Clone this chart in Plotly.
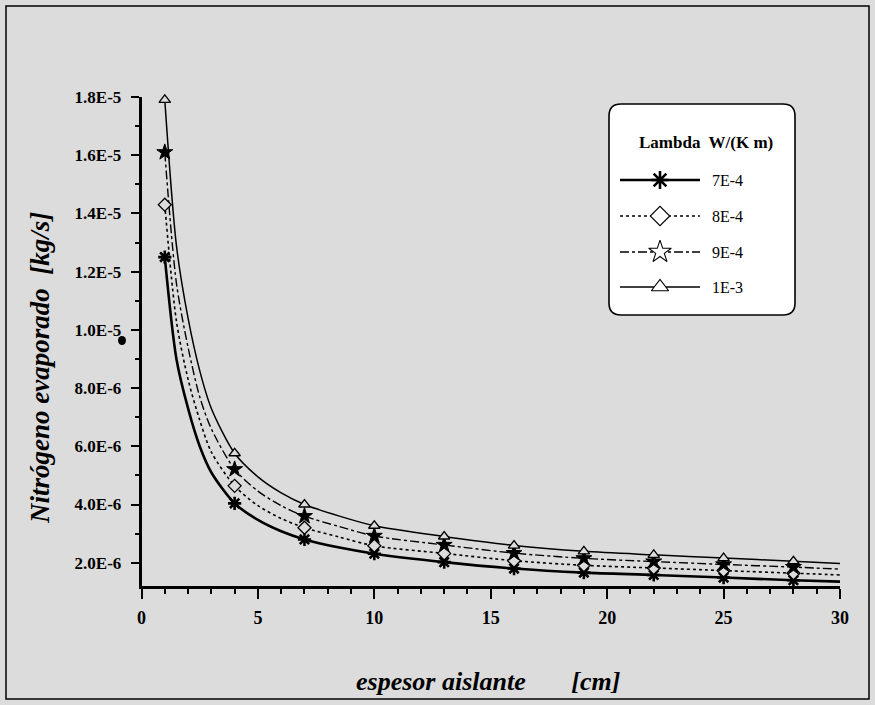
import plotly.graph_objects as go

# ---------------- data ----------------
lambda_labels = ["7E-4", "8E-4", "9E-4", "1E-3"]

curve_x = [1, 1.5, 2, 2.5, 3, 4, 5, 6, 7, 8.5, 10, 13, 16, 19, 22, 25, 28, 30]
curve_7e4 = [12.5, 9.0, 7.3, 6.0, 5.1, 4.04, 3.47, 3.08, 2.80, 2.52, 2.31, 2.02, 1.80, 1.66, 1.58, 1.49, 1.40, 1.35]
curve_8e4 = [14.3, 10.3, 8.3, 6.9, 5.8, 4.64, 3.96, 3.52, 3.20, 2.88, 2.58, 2.32, 2.07, 1.91, 1.82, 1.73, 1.64, 1.58]
curve_9e4 = [16.1, 11.6, 9.4, 7.7, 6.6, 5.21, 4.46, 3.96, 3.60, 3.24, 2.92, 2.61, 2.33, 2.15, 2.04, 1.94, 1.85, 1.78]
curve_1e3 = [17.9, 12.9, 10.4, 8.6, 7.3, 5.76, 4.95, 4.40, 4.00, 3.60, 3.27, 2.90, 2.59, 2.39, 2.27, 2.16, 2.05, 1.97]

mark_x = [1, 4, 7, 10, 13, 16, 19, 22, 25, 28]
mark_7e4 = [12.5, 4.04, 2.80, 2.31, 2.02, 1.80, 1.66, 1.58, 1.49, 1.40]
mark_8e4 = [14.3, 4.64, 3.20, 2.58, 2.32, 2.07, 1.91, 1.82, 1.73, 1.64]
mark_9e4 = [16.1, 5.21, 3.60, 2.92, 2.61, 2.33, 2.15, 2.04, 1.94, 1.85]
mark_1e3 = [17.9, 5.76, 4.00, 3.27, 2.90, 2.59, 2.39, 2.27, 2.16, 2.05]

SCALE = 1e-6  # values above are in units of 1E-6 kg/s

x_tickvals = [0, 5, 10, 15, 20, 25, 30]
y_tickvals = [2e-6, 4e-6, 6e-6, 8e-6, 1.0e-5, 1.2e-5, 1.4e-5, 1.6e-5, 1.8e-5]
y_ticktext = ["2.0E-6", "4.0E-6", "6.0E-6", "8.0E-6", "1.0E-5", "1.2E-5", "1.4E-5", "1.6E-5", "1.8E-5"]

# ---------------- styling ----------------
BG = "#dcdcdc"
FONT = "Liberation Serif"
W, H = 875, 705
PL, PR, PT, PB = 141.5, 840, 97, 586   # plot area in pixels

styles = [
    dict(curve=curve_7e4, marks=mark_7e4, dash="solid", width=2.6, symbol="asterisk-open", size=11, mlw=2.6,
         fill="black", leg_symbol="asterisk-open", leg_fill="black", leg_size=15, leg_lw=2.6),
    dict(curve=curve_8e4, marks=mark_8e4, dash="dot", width=1.6, symbol="diamond", size=10, mlw=1.3,
         fill=BG, leg_symbol="diamond", leg_fill="white", leg_size=15, leg_lw=1.1),
    dict(curve=curve_9e4, marks=mark_9e4, dash="dashdot", width=1.4, symbol="star", size=12, mlw=1.0,
         fill="black", leg_symbol="star", leg_fill="white", leg_size=17, leg_lw=1.1),
    dict(curve=curve_1e3, marks=mark_1e3, dash="solid", width=1.5, symbol="triangle-up", size=10, mlw=1.3,
         fill=BG, leg_symbol="triangle-up", leg_fill="white", leg_size=15, leg_lw=1.1),
]

fig = go.Figure()

for st in styles:
    fig.add_trace(go.Scatter(
        x=curve_x, y=[v * SCALE for v in st["curve"]], mode="lines",
        line=dict(color="black", width=st["width"], dash=st["dash"], shape="spline", smoothing=0.8),
        showlegend=False, hoverinfo="skip", xaxis="x", yaxis="y"))
for st in styles:
    fig.add_trace(go.Scatter(
        x=mark_x, y=[v * SCALE for v in st["marks"]], mode="markers", cliponaxis=False,
        marker=dict(symbol=st["symbol"], size=st["size"], color=st["fill"],
                    line=dict(color="black", width=st["mlw"])),
        showlegend=False, hoverinfo="skip", xaxis="x", yaxis="y"))

# ---------------- custom legend (pixel coordinates on overlay axes) ----------------
LB_X0, LB_X1, LB_Y0, LB_Y1 = 609, 795, 104, 315
leg_rows = [180, 216, 252, 287]
for st, yy in zip(styles, leg_rows):
    fig.add_trace(go.Scatter(
        x=[620, 700], y=[yy, yy], mode="lines",
        line=dict(color="black", width=st["width"], dash=st["dash"]),
        showlegend=False, hoverinfo="skip", xaxis="x2", yaxis="y2"))
    fig.add_trace(go.Scatter(
        x=[660], y=[yy], mode="markers",
        marker=dict(symbol=st["leg_symbol"], size=st["leg_size"], color=st["leg_fill"],
                    line=dict(color="black", width=st["leg_lw"])),
        showlegend=False, hoverinfo="skip", xaxis="x2", yaxis="y2"))

annotations = []
for yy, lab in zip(leg_rows, lambda_labels):
    annotations.append(dict(x=710, y=yy, xref="x2", yref="y2", text=lab, showarrow=False,
                            xanchor="left", yanchor="middle",
                            font=dict(family=FONT, size=16, color="black")))
annotations.append(dict(x=(LB_X0 + LB_X1) / 2 + 4, y=142, xref="x2", yref="y2",
                        text="Lambda  W/(K m)", showarrow=False, xanchor="center", yanchor="middle",
                        font=dict(family=FONT, size=17, color="black", weight="bold")))
# axis titles
annotations.append(dict(x=488, y=681, xref="x2", yref="y2",
                        text="espesor aislante       [cm]", showarrow=False,
                        xanchor="center", yanchor="middle",
                        font=dict(family=FONT, size=26, color="black", weight="bold", style="italic")))
annotations.append(dict(x=40, y=368, xref="x2", yref="y2", textangle=-90,
                        text="Nitrógeno evaporado  [kg/s]", showarrow=False,
                        xanchor="center", yanchor="middle",
                        font=dict(family=FONT, size=27, color="black", weight="bold", style="italic")))

r = 12
box_path = (f"M {LB_X0 + r},{LB_Y0} L {LB_X1 - r},{LB_Y0} Q {LB_X1},{LB_Y0} {LB_X1},{LB_Y0 + r} "
            f"L {LB_X1},{LB_Y1 - r} Q {LB_X1},{LB_Y1} {LB_X1 - r},{LB_Y1} "
            f"L {LB_X0 + r},{LB_Y1} Q {LB_X0},{LB_Y1} {LB_X0},{LB_Y1 - r} "
            f"L {LB_X0},{LB_Y0 + r} Q {LB_X0},{LB_Y0} {LB_X0 + r},{LB_Y0} Z")

shapes = [
    dict(type="rect", xref="x2", yref="y2", x0=6, x1=869, y0=6, y1=699,
         line=dict(color="black", width=1.5), fillcolor="rgba(0,0,0,0)", layer="below"),
    dict(type="path", xref="x2", yref="y2", path=box_path,
         line=dict(color="black", width=1.6), fillcolor="white", layer="below"),
    dict(type="circle", xref="x2", yref="y2", x0=118, x1=126, y0=336, y1=345,
         line=dict(color="black", width=0), fillcolor="black", layer="above"),
]

fig.update_layout(
    width=W, height=H,
    margin=dict(l=0, r=0, t=0, b=0, pad=0),
    paper_bgcolor=BG, plot_bgcolor="rgba(0,0,0,0)",
    showlegend=False,
    xaxis=dict(domain=[PL / W, PR / W], range=[0, 30], anchor="y",
               tickmode="array", tickvals=x_tickvals,
               ticks="outside", ticklen=10, tickwidth=2.2, tickcolor="black",
               showline=True, linewidth=2.6, linecolor="black",
               showgrid=False, zeroline=False, automargin=False,
               ticklabelstandoff=4,
               tickfont=dict(family=FONT, size=18, color="black", weight="bold"),
               minor=dict(tickmode="linear", tick0=0, dtick=1, ticks="outside",
                          ticklen=5, tickwidth=1.6, tickcolor="black", showgrid=False)),
    yaxis=dict(domain=[(H - PB) / H, (H - PT) / H], range=[1.2e-6, 1.8e-5], anchor="x",
               tickmode="array", tickvals=y_tickvals, ticktext=y_ticktext,
               ticks="outside", ticklen=8, tickwidth=2.2, tickcolor="black",
               showline=True, linewidth=2.6, linecolor="black",
               showgrid=False, zeroline=False, automargin=False,
               ticklabelstandoff=6,
               tickfont=dict(family=FONT, size=17, color="black", weight="bold"),
               minor=dict(tickmode="linear", tick0=0, dtick=1e-6, ticks="outside",
                          ticklen=4, tickwidth=1.6, tickcolor="black", showgrid=False)),
    xaxis2=dict(domain=[0, 1], range=[0, W], anchor="y2", visible=False, fixedrange=True),
    yaxis2=dict(domain=[0, 1], range=[H, 0], anchor="x2", visible=False, fixedrange=True),
    annotations=annotations,
    shapes=shapes,
)

fig.write_html("out.html")
